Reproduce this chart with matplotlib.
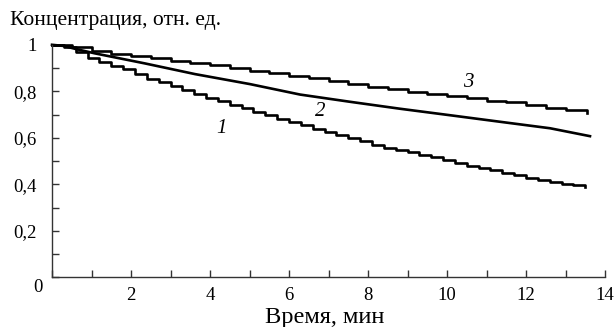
import matplotlib
matplotlib.use("Agg")
import matplotlib.pyplot as plt
from matplotlib.ticker import MultipleLocator, FixedLocator

# ---- data ----
t1 = [0, 0.3, 0.6, 0.9, 1.2, 1.5, 1.8, 2.1, 2.4, 2.7, 3.0, 3.3, 3.6, 3.9, 4.2, 4.5,
      4.8, 5.1, 5.4, 5.7, 6.0, 6.3, 6.6, 6.9, 7.2, 7.5, 7.8, 8.1, 8.4, 8.7, 9.0,
      9.3, 9.6, 9.9, 10.2, 10.5, 10.8, 11.1, 11.4, 11.7, 12.0, 12.3, 12.6, 12.9,
      13.2, 13.5]
c1 = [1.000, 0.990, 0.968, 0.945, 0.925, 0.910, 0.895, 0.873, 0.855, 0.838, 0.822,
      0.805, 0.789, 0.773, 0.758, 0.742, 0.727, 0.712, 0.697, 0.683, 0.670, 0.655,
      0.640, 0.626, 0.612, 0.598, 0.585, 0.570, 0.558, 0.548, 0.538, 0.528, 0.518,
      0.505, 0.492, 0.480, 0.470, 0.460, 0.448, 0.438, 0.428, 0.418, 0.410, 0.402,
      0.395, 0.387]

t2 = [0, 0.3, 0.6, 1.09, 2.35, 3.62, 5.01, 6.28, 7.54, 8.81, 10.08, 11.34, 12.61, 13.62]
c2 = [1.000, 0.995, 0.982, 0.963, 0.920, 0.874, 0.831, 0.786, 0.755, 0.725, 0.697,
      0.669, 0.641, 0.607]

t3 = [0, 0.5, 1.0, 1.5, 2.0, 2.5, 3.0, 3.5, 4.0, 4.5, 5.0, 5.5, 6.0, 6.5, 7.0, 7.5,
      8.0, 8.5, 9.0, 9.5, 10.0, 10.5, 11.0, 11.5, 12.0, 12.5, 13.0, 13.55]
c3 = [1.000, 0.990, 0.975, 0.962, 0.952, 0.943, 0.932, 0.922, 0.912, 0.899, 0.888,
      0.877, 0.866, 0.856, 0.844, 0.832, 0.820, 0.809, 0.798, 0.788, 0.780, 0.770,
      0.760, 0.752, 0.742, 0.730, 0.720, 0.708]

curve_labels = ["1", "2", "3"]
label_pos = [(4.3, 0.642), (6.78, 0.711), (10.53, 0.84)]

x_ticks = [2, 4, 6, 8, 10, 12, 14]
x_ticklabels = ["2", "4", "6", "8", "10", "12", "14"]
y_ticks = [0.2, 0.4, 0.6, 0.8, 1.0]
y_ticklabels = ["0,2", "0,4", "0,6", "0,8", "1"]

title = "Концентрация, отн. ед."
xlabel = "Время, мин"

# ---- figure ----
plt.rcParams['font.family'] = ['Liberation Serif', 'DejaVu Serif']
FS = 13.5
W, H = 616, 327
fig = plt.figure(figsize=(W / 100, H / 100), dpi=100)
ax = fig.add_axes([52 / W, 1 - 277.3 / H, 553 / W, 232.5 / H])

lw = 1.9
ax.plot(t1, c1, color='black', lw=lw, drawstyle='steps-post', clip_on=False)
ax.plot(t2, c2, color='black', lw=lw, clip_on=False)
ax.plot(t3, c3, color='black', lw=lw, drawstyle='steps-post', clip_on=False)

for lab, (lx, ly) in zip(curve_labels, label_pos):
    ax.text(lx, ly, lab, fontsize=15, style='italic', ha='center', va='center')

ax.set_xlim(0, 14)
ax.set_ylim(0, 1)
for s in ['top', 'right']:
    ax.spines[s].set_visible(False)
for s in ['left', 'bottom']:
    ax.spines[s].set_color('#333333')
    ax.spines[s].set_linewidth(1.0)

ax.xaxis.set_major_locator(FixedLocator(x_ticks))
ax.set_xticklabels(x_ticklabels)
ax.xaxis.set_minor_locator(MultipleLocator(1))
ax.yaxis.set_major_locator(FixedLocator(y_ticks))
ax.set_yticklabels(y_ticklabels)
ax.yaxis.set_minor_locator(MultipleLocator(0.1))

ax.tick_params(which='both', direction='in', length=5, width=1.0, color='#333333',
               labelsize=FS)
ax.tick_params(axis='x', which='major', pad=7)
ax.tick_params(axis='y', which='major', pad=11)

fig.text(38 / W, 1 - 288 / H, "0", fontsize=FS, ha='center', va='center')
t_title = fig.text(10 / W, 1 - 21 / H, title, fontsize=FS, ha='left', va='center')
t_xl = fig.text(325 / W, 1 - 318 / H, xlabel, fontsize=FS, ha='center', va='center')

# fit text sizes to the widths seen in the reference
renderer = fig.canvas.get_renderer()
for txt, target in [(t_title, 212), (t_xl, 120)]:
    w = txt.get_window_extent(renderer).width
    txt.set_fontsize(FS * target / w)

fig.savefig("out.png", dpi=100)
